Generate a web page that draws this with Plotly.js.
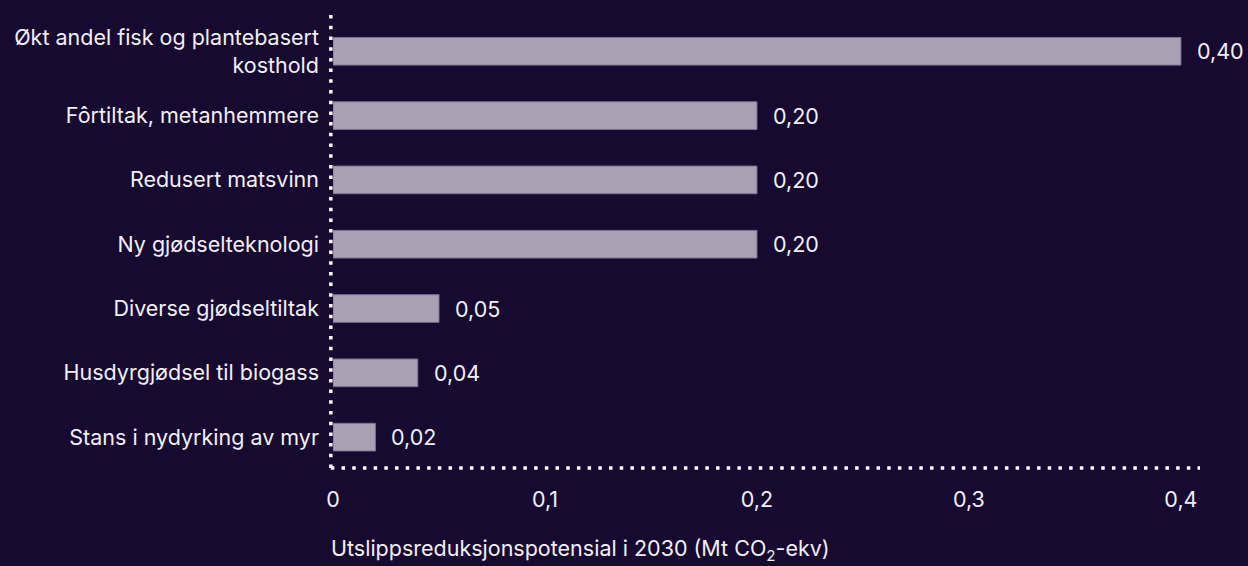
<!DOCTYPE html>
<html>
<head>
<meta charset="utf-8">
<script src="https://cdn.plot.ly/plotly-3.0.1.min.js"></script>
<style>
html,body{margin:0;padding:0;background:#170a31;}
#chart{width:1248px;height:566px;}
</style>
</head>
<body>
<div id="chart"></div>
<script>
const categories = [
  "Økt andel fisk og plantebasert<br>kosthold",
  "Fôrtiltak, metanhemmere",
  "Redusert matsvinn",
  "Ny gjødselteknologi",
  "Diverse gjødseltiltak",
  "Husdyrgjødsel til biogass",
  "Stans i nydyrking av myr"
];
const values = [0.40, 0.20, 0.20, 0.20, 0.05, 0.04, 0.02];
const tickVals = [0, 0.1, 0.2, 0.3, 0.4];
const tickText = ["0", "0,1", "0,2", "0,3", "0,4"];
const xTitle = "Utslippsreduksjonspotensial i 2030 (Mt CO<sub>2</sub>-ekv)";

const FONT = "Inter, 'Open Sans', sans-serif";
const FS = 21.5;
const TXT = "#f2eff6";
const BG = "#170a31";

const trace = {
  type: "bar",
  orientation: "h",
  x: values,
  y: categories,
  marker: {color: "#aaa0b4", line: {color: "#7d7290", width: 1}},
  width: 0.43,
  hoverinfo: "none",
  cliponaxis: false
};

const annotations = values.map((v, i) => ({
  x: v, y: categories[i], xref: "x", yref: "y",
  text: v.toFixed(2).replace(".", ","),
  showarrow: false, xanchor: "left", xshift: 14,
  font: {family: FONT, size: FS, color: TXT}
}));
annotations.push({
  text: xTitle, xref: "paper", yref: "paper",
  x: (580 - 333) / (1200 - 333), y: -0.181,
  xanchor: "center", yanchor: "middle", showarrow: false,
  font: {family: FONT, size: FS, color: TXT}
});

const dotLine = {color: "#ffffff", width: 3.5, dash: "3.5px,7.2px"};
const shapes = [
  {type: "line", xref: "paper", yref: "paper", x0: -0.0025, x1: -0.0025, y0: 0, y1: 1, line: dotLine},
  {type: "line", xref: "paper", yref: "paper", x0: -0.0025, x1: 1, y0: 0, y1: 0, line: dotLine}
];

const layout = {
  width: 1248, height: 566,
  paper_bgcolor: BG, plot_bgcolor: BG,
  margin: {l: 333, r: 48, t: 14, b: 98},
  separators: ", ",
  showlegend: false,
  font: {family: FONT, size: FS, color: TXT},
  xaxis: {
    range: [0, 0.409],
    tickvals: tickVals, ticktext: tickText,
    showgrid: false, zeroline: false, showline: false,
    ticks: "", ticklabelstandoff: 16,
    tickfont: {family: FONT, size: FS, color: TXT},
    fixedrange: true
  },
  yaxis: {
    autorange: false,
    range: [6.48, -0.58],
    type: "category",
    showgrid: false, zeroline: false, showline: false,
    ticks: "", ticklabelstandoff: 13,
    tickfont: {family: FONT, size: FS, color: TXT},
    fixedrange: true
  },
  shapes: shapes,
  annotations: annotations
};

Plotly.newPlot("chart", [trace], layout, {displayModeBar: false, staticPlot: true});
</script>
</body>
</html>
